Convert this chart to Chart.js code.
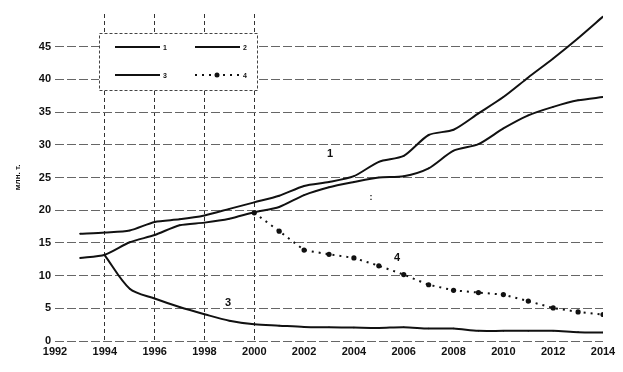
<!DOCTYPE html>
<html>
<head>
<meta charset="utf-8">
<script src="https://cdn.jsdelivr.net/npm/chart.js@4.4.0/dist/chart.umd.min.js"></script>
<style>
  html, body { margin: 0; padding: 0; background: #fff; }
  #wrap { width: 623px; height: 372px; position: relative; }
</style>
</head>
<body>
<div id="wrap"><canvas id="chart"></canvas></div>
<script>
// годы и ряды (млн. т.)
const years = [1993, 1994, 1995, 1996, 1997, 1998, 1999, 2000, 2001, 2002, 2003,
               2004, 2005, 2006, 2007, 2008, 2009, 2010, 2011, 2012, 2013, 2014];
const serie1 = [16.4, 16.6, 16.9, 18.2, 18.6, 19.2, 20.2, 21.2, 22.2, 23.7, 24.3,
                25.2, 27.4, 28.3, 31.5, 32.3, 34.8, 37.3, 40.3, 43.2, 46.3, 49.6];
const serie2 = [12.7, 13.2, 15.1, 16.2, 17.7, 18.1, 18.7, 19.7, 20.5, 22.3, 23.5,
                24.3, 25.0, 25.2, 26.4, 29.1, 30.1, 32.5, 34.5, 35.8, 36.8, 37.3];
const years3 = years.slice(1);   // с 1994
const serie3 = [13.1, 8.0, 6.5, 5.2, 4.1, 3.1, 2.55, 2.35, 2.15, 2.1, 2.05,
                2.0, 2.1, 1.9, 1.9, 1.55, 1.55, 1.55, 1.55, 1.35, 1.3];
const years4 = years.slice(7);   // с 2000
const serie4 = [19.6, 16.8, 13.9, 13.25, 12.7, 11.5, 10.15, 8.6, 7.75, 7.4, 7.1,
                6.1, 5.05, 4.45, 4.05];
const vGridYears = [1994, 1996, 1998, 2000];
const seriesNames = ['1', '2', '3', '4'];

const pts = (xs, ys) => xs.map((x, i) => ({ x: x, y: ys[i] }));
const FONT = 'Liberation Sans, Arial, sans-serif';

// легенда в рамке + подписи кривых
const extras = {
  id: 'extras',
  afterDraw(chart) {
    const c = chart.ctx;
    c.save();
    c.fillStyle = '#fff';
    c.fillRect(99, 33, 158, 57);
    c.setLineDash([3, 2]);
    c.strokeStyle = '#444';
    c.lineWidth = 1;
    c.strokeRect(99.5, 33.5, 158, 57);

    const items = [
      { x: 115, y: 47, ds: 0 }, { x: 195, y: 47, ds: 1 },
      { x: 115, y: 75, ds: 2 }, { x: 195, y: 75, ds: 3 }
    ];
    items.forEach(it => {
      const ds = chart.data.datasets[it.ds];
      c.strokeStyle = '#111';
      c.lineWidth = 2;
      c.setLineDash(ds.borderDash || []);
      c.beginPath();
      c.moveTo(it.x, it.y);
      c.lineTo(it.x + 45, it.y);
      c.stroke();
      c.setLineDash([]);
      if (it.ds === 3) {
        c.fillStyle = '#111';
        c.beginPath();
        c.arc(it.x + 22, it.y, 2.5, 0, Math.PI * 2);
        c.fill();
      }
      c.fillStyle = '#111';
      c.font = 'bold 7px ' + FONT;
      c.textBaseline = 'middle';
      c.fillText(seriesNames[it.ds], it.x + 48, it.y + 1);
    });

    c.font = 'bold 11px ' + FONT;
    c.textAlign = 'center';
    c.textBaseline = 'middle';
    c.fillText('1', 330, 154);
    c.fillText('3', 228, 303);
    c.fillText('4', 397, 258);
    c.font = 'bold 9px ' + FONT;
    c.fillText(':', 371, 198);
    c.restore();
  }
};

const ctx = document.getElementById('chart');
new Chart(ctx, {
  type: 'line',
  data: {
    datasets: [
      { label: '1', data: pts(years, serie1), borderColor: '#111', backgroundColor: '#111',
        borderWidth: 2, pointRadius: 0.8, pointBorderWidth: 0, tension: 0.25 },
      { label: '2', data: pts(years, serie2), borderColor: '#111', backgroundColor: '#111',
        borderWidth: 2, pointRadius: 0.8, pointBorderWidth: 0, tension: 0.25 },
      { label: '3', data: pts(years3, serie3), borderColor: '#111', backgroundColor: '#111',
        borderWidth: 2, pointRadius: 0.8, pointBorderWidth: 0, tension: 0.3 },
      { label: '4', data: pts(years4, serie4), borderColor: '#111', backgroundColor: '#111',
        borderWidth: 2, borderDash: [2, 5], pointRadius: 2.6, pointBorderWidth: 0, tension: 0 }
    ]
  },
  options: {
    responsive: true,
    maintainAspectRatio: false,
    animation: false,
    layout: { padding: { left: 5, right: 20, top: 14, bottom: 0 } },
    plugins: { legend: { display: false }, tooltip: { enabled: false } },
    scales: {
      x: {
        type: 'linear', min: 1992, max: 2014,
        border: { display: false },
        afterFit: s => { s.height = 31; },
        ticks: { stepSize: 2, color: '#111', font: { family: FONT, size: 11, weight: 'bold' },
                 callback: v => String(v), padding: 4 },
        grid: {
          drawTicks: false,
          lineWidth: 1,
          color: c => vGridYears.includes(c.tick && c.tick.value) ? '#333' : 'rgba(0,0,0,0)'
        }
      },
      y: {
        min: 0, max: 50,
        border: { display: false },
        afterFit: s => { s.width = 50; },
        ticks: { stepSize: 5, color: '#111', font: { family: FONT, size: 11, weight: 'bold' },
                 callback: v => (v === 50 ? '' : String(v)), padding: 4 },
        title: { display: true, text: 'млн. т.', color: '#111', padding: { top: 8, bottom: 0 },
                 font: { family: FONT, size: 8, weight: 'bold' } },
        grid: {
          drawTicks: false,
          lineWidth: 1,
          color: c => (c.tick && c.tick.value === 50) ? 'rgba(0,0,0,0)' : '#666'
        }
      }
    }
  },
  plugins: [{
    id: 'dashGrid',
    beforeDraw(chart) {
      chart.options.scales.x.border.dash = [4, 3];
      chart.options.scales.y.border.dash = [9, 3];
    }
  }, extras]
});
</script>
</body>
</html>
